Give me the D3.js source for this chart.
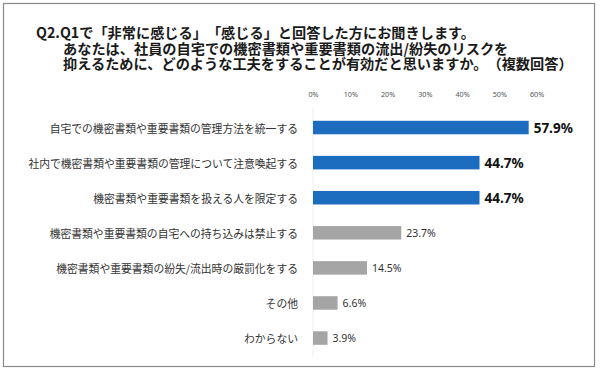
<!DOCTYPE html>
<html>
<head>
<meta charset="utf-8">
<script src="https://cdn.jsdelivr.net/npm/d3@7"></script>
<style>
  body { margin: 0; background: #fff; }
  svg { display: block; font-family: "Noto Sans CJK JP", "Noto Sans", sans-serif; }
  svg text { text-spacing-trim: space-all; font-feature-settings: "chws" 0, "halt" 0, "palt" 0; }
</style>
</head>
<body>
<div id="chart"></div>
<script>
// data
const titleLines = [
  "Q2.Q1で「非常に感じる」「感じる」と回答した方にお聞きします。",
  "あなたは、社員の自宅での機密書類や重要書類の流出/紛失のリスクを",
  "抑えるために、どのような工夫をすることが有効だと思いますか。（複数回答）"
];
const categories = [
  "自宅での機密書類や重要書類の管理方法を統一する",
  "社内で機密書類や重要書類の管理について注意喚起する",
  "機密書類や重要書類を扱える人を限定する",
  "機密書類や重要書類の自宅への持ち込みは禁止する",
  "機密書類や重要書類の紛失/流出時の厳罰化をする",
  "その他",
  "わからない"
];
const values = [57.9, 44.7, 44.7, 23.7, 14.5, 6.6, 3.9];
const highlighted = [true, true, true, false, false, false, false];
const ticks = [0, 10, 20, 30, 40, 50, 60];

const W = 600, H = 373;
const svg = d3.select("#chart").append("svg")
  .attr("width", W).attr("height", H);

// frame
svg.append("rect")
  .attr("x", 3.5).attr("y", 3.5)
  .attr("width", 591).attr("height", 363)
  .attr("fill", "#fff")
  .attr("stroke", "#8a8a8a")
  .attr("stroke-width", 1.2);

// title, one text block with a line per tspan
const tx = [36, 63, 63];
svg.append("text")
  .attr("font-size", 14.2)
  .attr("font-weight", "bold")
  .attr("fill", "#1a1a1a")
  .selectAll("tspan")
  .data(titleLines).join("tspan")
  .attr("x", (d, i) => tx[i])
  .attr("y", (d, i) => 38 + i * 15.7)
  .text(d => d);

const x = d3.scaleLinear().domain([0, 60]).range([313, 536.5]);
const y = d3.scalePoint().domain(categories).range([110, 355.6]).padding(0.5);
const barH = 13.5;

// faint baseline
svg.append("line")
  .attr("x1", x(0)).attr("x2", x(0))
  .attr("y1", 108).attr("y2", 357)
  .attr("stroke", "#eeeeee");

// top axis
const axis = svg.append("g")
  .attr("transform", "translate(0,97.5)")
  .call(d3.axisTop(x).tickValues(ticks).tickSize(0).tickFormat(d => d + "%"));
axis.select(".domain").remove();
axis.selectAll("text")
  .attr("dy", "0.35em")
  .attr("font-size", 7.2)
  .attr("fill", "#555")
  .attr("font-family", "Noto Sans, sans-serif");

// category labels
svg.append("g").selectAll("text")
  .data(categories).join("text")
  .attr("x", 298)
  .attr("y", d => y(d))
  .attr("text-anchor", "end")
  .attr("dominant-baseline", "central")
  .attr("font-size", 10.8)
  .attr("fill", "#333")
  .text(d => d);

// bars
svg.append("g").selectAll("rect")
  .data(values).join("rect")
  .attr("x", x(0))
  .attr("y", (d, i) => y(categories[i]) - barH / 2)
  .attr("width", d => x(d) - x(0))
  .attr("height", barH)
  .attr("fill", (d, i) => highlighted[i] ? "#1c6cc0" : "#a5a5a5");

// value labels
svg.append("g").selectAll("text")
  .data(values).join("text")
  .attr("x", d => x(d) + 5)
  .attr("y", (d, i) => y(categories[i]))
  .attr("dominant-baseline", "central")
  .attr("font-family", "Noto Sans, DejaVu Sans, sans-serif")
  .attr("font-size", (d, i) => highlighted[i] ? 13.5 : 10.5)
  .attr("font-weight", (d, i) => highlighted[i] ? "bold" : "normal")
  .attr("fill", (d, i) => highlighted[i] ? "#111" : "#333")
  .text(d => d.toFixed(1) + "%");
</script>
</body>
</html>
